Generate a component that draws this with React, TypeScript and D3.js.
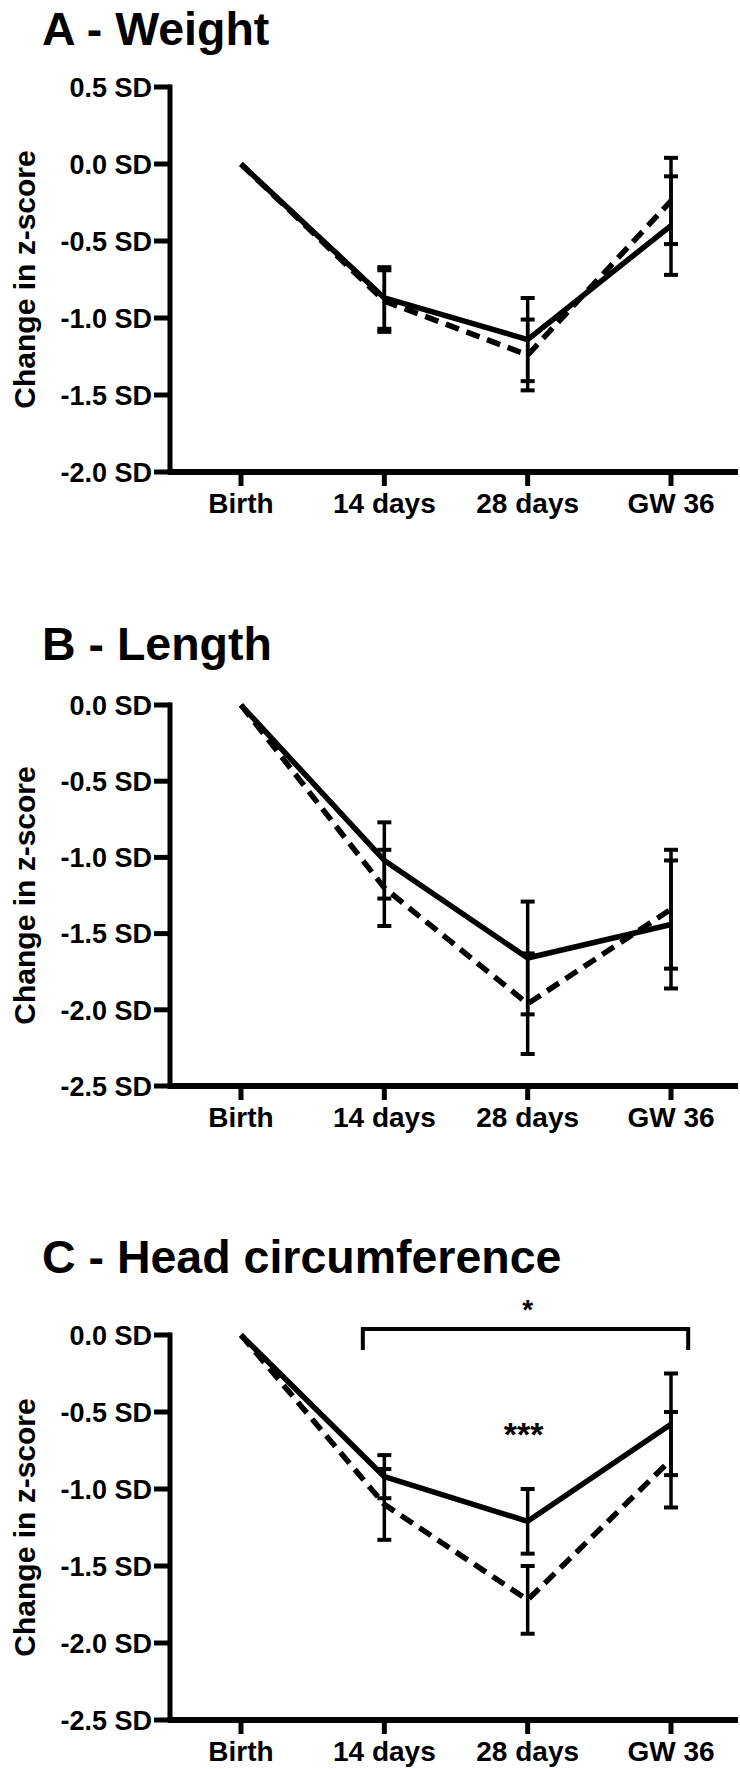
import React from 'react';
import * as d3 from 'd3';

// time points on the x axis
const timepoints = ['Birth', '14 days', '28 days', 'GW 36'];

// A - weight (change in z-score, mean and error)
const weightSolid = [0, -0.87, -1.14, -0.4];
const weightSolidErr = [0, 0.2, 0.27, 0.32];
const weightDashed = [0, -0.89, -1.24, -0.24];
const weightDashedErr = [0, 0.2, 0.23, 0.28];
const weightTicks = [0.5, 0, -0.5, -1, -1.5, -2];

// B - length
const lengthSolid = [0, -1.02, -1.66, -1.44];
const lengthSolidErr = [0, 0.25, 0.37, 0.42];
const lengthDashed = [0, -1.2, -1.96, -1.34];
const lengthDashedErr = [0, 0.25, 0.33, 0.39];
const lengthTicks = [0, -0.5, -1, -1.5, -2, -2.5];

// C - head circumference
const headSolid = [0, -0.92, -1.21, -0.58];
const headSolidErr = [0, 0.14, 0.21, 0.33];
const headDashed = [0, -1.1, -1.72, -0.81];
const headDashedErr = [0, 0.23, 0.22, 0.31];
const headTicks = [0, -0.5, -1, -1.5, -2, -2.5];

const FONT = '"Liberation Sans", Arial, Helvetica, sans-serif';
const AXIS_X = 170;
const X_RANGE: [number, number] = [241, 671];

function Series({ values, errors, x, y, dashed }) {
  const path = d3.line<number>()
    .x((_, i) => x(timepoints[i]))
    .y(d => y(d))(values);

  return (
    <g>
      <path
        d={ path }
        fill="none"
        stroke="#000"
        strokeWidth={ 5.5 }
        strokeLinejoin="round"
        strokeDasharray={ dashed ? '14 8' : undefined } />
      {
        values.map((v, i) => errors[i] > 0 && (
          <g key={ i } stroke="#000">
            <line x1={ x(timepoints[i]) } x2={ x(timepoints[i]) }
              y1={ y(v + errors[i]) } y2={ y(v - errors[i]) } strokeWidth={ 3.5 } />
            <line x1={ x(timepoints[i]) - 7 } x2={ x(timepoints[i]) + 7 }
              y1={ y(v + errors[i]) } y2={ y(v + errors[i]) } strokeWidth={ 4 } />
            <line x1={ x(timepoints[i]) - 7 } x2={ x(timepoints[i]) + 7 }
              y1={ y(v - errors[i]) } y2={ y(v - errors[i]) } strokeWidth={ 4 } />
          </g>
        ))
      }
    </g>
  );
}

function Panel({ title, titleY, ticks, top, bottom, solid, solidErr, dashed, dashedErr, children }) {
  const x = d3.scalePoint().domain(timepoints).range(X_RANGE);
  const y = d3.scaleLinear()
    .domain([ticks[0], ticks[ticks.length - 1]])
    .range([top, bottom]);

  return (
    <g fontFamily={ FONT } fill="#000">
      <text x={ 42 } y={ titleY } fontSize={ 46.5 } fontWeight="bold">{ title }</text>

      {/* y axis */}
      <line x1={ AXIS_X } x2={ AXIS_X } y1={ top - 2.5 } y2={ bottom } stroke="#000" strokeWidth={ 5 } />
      {
        ticks.map(t => (
          <g key={ t }>
            <line x1={ AXIS_X - 16 } x2={ AXIS_X } y1={ y(t) } y2={ y(t) } stroke="#000" strokeWidth={ 5 } />
            <text x={ 152 } y={ y(t) } dy="0.36em" textAnchor="end" fontSize={ 27 } fontWeight="bold">
              { `${ t.toFixed(1) } SD` }
            </text>
          </g>
        ))
      }
      <text
        transform={ `translate(35, ${ (top + bottom) / 2 }) rotate(-90)` }
        textAnchor="middle" fontSize={ 30 } fontWeight="bold">
        Change in z-score
      </text>

      {/* x axis */}
      <line x1={ AXIS_X - 2.5 } x2={ 738 } y1={ bottom } y2={ bottom } stroke="#000" strokeWidth={ 6 } />
      {
        timepoints.map(t => (
          <g key={ t }>
            <line x1={ x(t) } x2={ x(t) } y1={ bottom } y2={ bottom + 14 } stroke="#000" strokeWidth={ 5 } />
            <text x={ x(t) } y={ bottom + 41 } textAnchor="middle" fontSize={ 28 } fontWeight="bold">{ t }</text>
          </g>
        ))
      }

      <Series values={ solid } errors={ solidErr } x={ x } y={ y } dashed={ false } />
      <Series values={ dashed } errors={ dashedErr } x={ x } y={ y } dashed />

      { children && children(x, y) }
    </g>
  );
}

export default function App() {
  return (
    <svg width={ 740 } height={ 1769 } style={{ position: 'absolute', left: 0, top: 0, background: '#fff' }}>
      <rect width={ 740 } height={ 1769 } fill="#fff" />
      <Panel
        title="A - Weight" titleY={ 45 } ticks={ weightTicks } top={ 87 } bottom={ 472 }
        solid={ weightSolid } solidErr={ weightSolidErr }
        dashed={ weightDashed } dashedErr={ weightDashedErr } />
      <Panel
        title="B - Length" titleY={ 660 } ticks={ lengthTicks } top={ 705 } bottom={ 1086 }
        solid={ lengthSolid } solidErr={ lengthSolidErr }
        dashed={ lengthDashed } dashedErr={ lengthDashedErr } />
      <Panel
        title="C - Head circumference" titleY={ 1273 } ticks={ headTicks } top={ 1335 } bottom={ 1720 }
        solid={ headSolid } solidErr={ headSolidErr }
        dashed={ headDashed } dashedErr={ headDashedErr }>
        {
          (x, y) => {
            const step = x.step();
            const x0 = x('14 days') - 0.15 * step;
            const x1 = x('GW 36') + 0.12 * step;
            const top = y(0) - 6;
            return (
              <g>
                <path d={ `M${ x0 },${ top + 21 }V${ top }H${ x1 }V${ top + 21 }` }
                  fill="none" stroke="#000" strokeWidth={ 4 } />
                <text x={ x('28 days') } y={ top - 10 } textAnchor="middle" fontSize={ 28 } fontWeight="bold">*</text>
                <text x={ x('28 days') - 4 } y={ y(-0.6) + 19 } textAnchor="middle" fontSize={ 34 } fontWeight="bold">***</text>
              </g>
            );
          }
        }
      </Panel>
    </svg>
  );
}
